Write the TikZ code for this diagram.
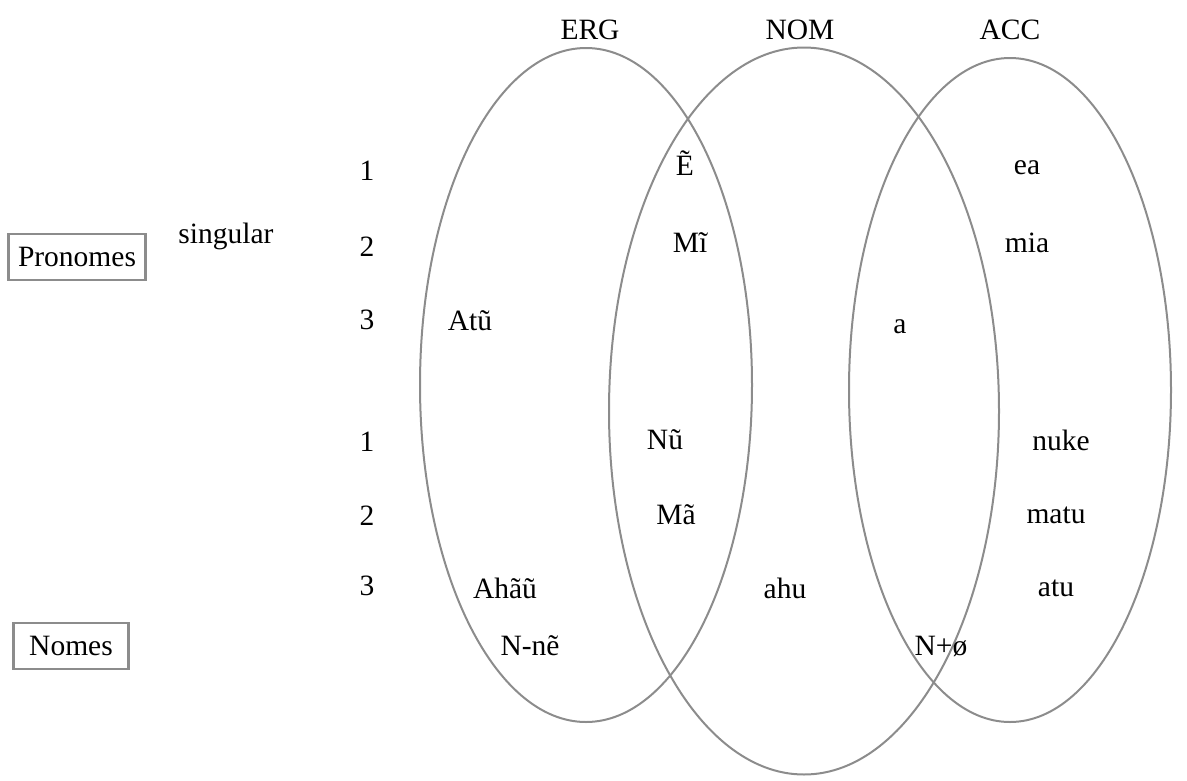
\documentclass[tikz,border=0pt]{standalone}
\usepackage{fontspec}
\setmainfont{Liberation Serif}
\usetikzlibrary{shapes.geometric}
\begin{document}
\begin{tikzpicture}[x=1pt,y=-1pt,
  every node/.style={font=\fontsize{29.5}{32}\selectfont, text=black, inner sep=0pt},
  caseset/.style={ellipse, draw=black!45, line width=2pt, inner sep=0pt},
  label/.style={anchor=center},
  tagbox/.style={draw=black!45, line width=2.2pt, minimum height=46pt, fill=white}]
\useasboundingbox (0,0) rectangle (1187,780);
% case sets
\node[caseset, minimum width=332pt, minimum height=674pt] (erg) at (586,385) {};
\node[caseset, minimum width=390pt, minimum height=727pt] (nom) at (804,411) {};
\node[caseset, minimum width=322pt, minimum height=664pt] (acc) at (1010,390) {};
% case headings
\node[label] (hERG) at (590,30) {ERG};
\node[label] (hNOM) at (800,30) {NOM};
\node[label] (hACC) at (1010,30) {ACC};
% row categories
\node[tagbox, minimum width=137pt] (pron) at (77,257) {Pronomes};
\node[tagbox, minimum width=115pt] (nomes) at (71,646) {Nomes};
\node[label] (sg) at (226,236) {singular};
% person numbers
\node[label] (p1a) at (367,171) {1};
\node[label] (p2a) at (367,247) {2};
\node[label] (p3a) at (367,320) {3};
\node[label] (p1b) at (367,442) {1};
\node[label] (p2b) at (367,516) {2};
\node[label] (p3b) at (367,586) {3};
% forms
\node[label] (e1) at (685,163) {Ẽ};
\node[label] (m1) at (690,243) {Mĩ};
\node[label] (atu3) at (470,321) {Atũ};
\node[label] (a3) at (900,327) {a};
\node[label] (nu) at (665,440) {Nũ};
\node[label] (ma) at (676,515) {Mã};
\node[label] (ahau) at (505,588) {Ahãũ};
\node[label] (ahu) at (785,588) {ahu};
\node[label] (nne) at (530,646) {N-nẽ};
\node[label] (nplus) at (941,646) {N+ø};
\node[label] (ea) at (1027,168) {ea};
\node[label] (mia) at (1027,243) {mia};
\node[label] (nuke) at (1061,440) {nuke};
\node[label] (matu) at (1056,515) {matu};
\node[label] (atu) at (1056,588) {atu};
\end{tikzpicture}
\end{document}
